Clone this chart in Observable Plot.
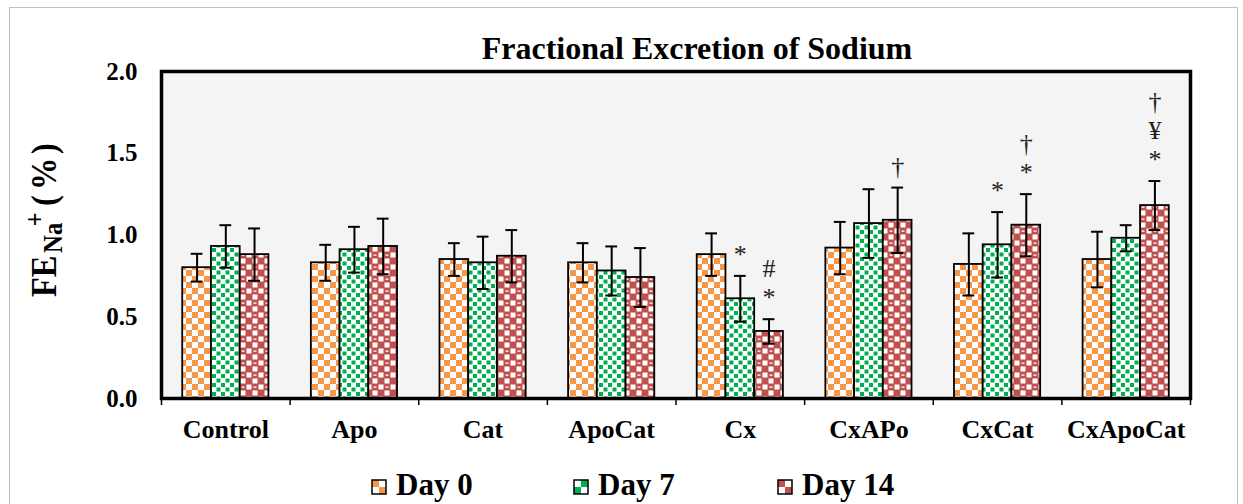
<!DOCTYPE html>
<html>
<head>
<meta charset="utf-8">
<script src="https://cdn.jsdelivr.net/npm/d3@7"></script>
<script src="https://cdn.jsdelivr.net/npm/@observablehq/plot@0.6"></script>
<style>
  body { margin: 0; background: #fff; font-family: "Liberation Serif", "Times New Roman", serif; }
  #wrap { position: relative; width: 1243px; height: 504px; overflow: hidden; }
  #border { position: absolute; left: 9px; top: 7px; width: 1229px; height: 520px; border: 1.5px solid #c0c0c0; box-sizing: border-box; }
  #chart { position: absolute; left: 0; top: 0; }
  #title { position: absolute; left: 0; width: 1394px; top: 29px; text-align: center; font-weight: bold; font-size: 32px; line-height: 38px; }
  #ylab { position: absolute; left: 0; top: 0; overflow: visible; }
  .leg { position: absolute; top: 469px; display: flex; align-items: center; font-weight: bold; font-size: 31px; line-height: 32px; }
  .leg svg { margin-right: 9px; margin-top: 3px; }
</style>
</head>
<body>
<div id="wrap">
  <div id="border"></div>
  <div id="chart"></div>
  <div id="title">Fractional Excretion of Sodium</div>
  <svg id="ylab" width="100" height="400">
    <text transform="translate(56,297) rotate(-90) scale(0.9,1)" font-family="'Liberation Serif', 'Times New Roman', serif" font-weight="bold" font-size="36" fill="black">FE<tspan font-size="27.5" dx="3" dy="6">Na</tspan><tspan font-size="27" dx="-4" dy="-18">+</tspan><tspan dx="7" dy="12">(</tspan><tspan dx="6">%</tspan><tspan dx="4">)</tspan></text>
  </svg>
  <div id="legend"></div>
</div>
<script>
const categories = ["Control", "Apo", "Cat", "ApoCat", "Cx", "CxAPo", "CxCat", "CxApoCat"];
const days = ["Day 0", "Day 7", "Day 14"];
const day0Mean = [0.80, 0.83, 0.85, 0.83, 0.88, 0.92, 0.82, 0.85];
const day0SD   = [0.085, 0.11, 0.10, 0.12, 0.13, 0.16, 0.19, 0.17];
const day7Mean = [0.93, 0.91, 0.83, 0.78, 0.61, 1.07, 0.94, 0.98];
const day7SD   = [0.13, 0.14, 0.16, 0.15, 0.14, 0.21, 0.20, 0.08];
const day14Mean = [0.88, 0.93, 0.87, 0.74, 0.41, 1.09, 1.06, 1.18];
const day14SD   = [0.16, 0.17, 0.16, 0.18, 0.075, 0.20, 0.19, 0.15];
const day0Ann  = ["", "", "", "", "", "", "", ""];
const day7Ann  = ["", "", "", "", "*", "", "*", ""];
const day14Ann = ["", "", "", "", "#\n*", "†", "†\n*", "†\n¥\n*"];
const yTicks = [0, 0.5, 1.0, 1.5, 2.0];

const means = [day0Mean, day7Mean, day14Mean];
const sds = [day0SD, day7SD, day14SD];
const anns = [day0Ann, day7Ann, day14Ann];
const patternIds = ["url(#pDay0)", "url(#pDay7)", "url(#pDay14)"];

const groupFrac = 0.67;          // share of a category band covered by its 3 bars
const barW = groupFrac / 3;
const rows = [];
categories.forEach((c, i) => {
  days.forEach((day, d) => {
    const x1 = i + 0.5 - groupFrac / 2 + d * barW;
    rows.push({cat: c, day, x1, x2: x1 + barW, xc: x1 + barW / 2,
      mean: means[d][i], sd: sds[d][i], lo: means[d][i] - sds[d][i], hi: means[d][i] + sds[d][i], ann: anns[d][i]});
  });
});
const capHalf = 0.046;

const plot = Plot.plot({
  width: 1243,
  height: 504,
  marginLeft: 161,
  marginRight: 53,
  marginTop: 71,
  marginBottom: 106,
  style: {fontFamily: "'Liberation Serif', 'Times New Roman', serif", fontSize: "25px", fontWeight: "bold", color: "black", background: "transparent", overflow: "visible"},
  x: {domain: [0, categories.length], axis: null},
  y: {domain: [0, 2], axis: null},
  color: {domain: days, range: patternIds},
  marks: [
    Plot.frame({fill: "#f4f4f4", stroke: "none"}),
    Plot.axisY({ticks: yTicks, tickSize: 0, tickPadding: 24, tickFormat: d3.format(".1f"), fontSize: 25, fontWeight: "bold"}),
    Plot.axisX({ticks: d3.range(0, categories.length + 1), tickSize: 7, tickFormat: () => "", strokeWidth: 1.5}),
    Plot.axisX({ticks: categories.map((c, i) => i + 0.5), tickSize: 0, tickPadding: 21, tickFormat: d => categories[Math.floor(d)], fontSize: 26, fontWeight: "bold"}),
    Plot.rectY(rows, {x1: "x1", x2: "x2", y1: 0, y2: "mean", fill: "day", stroke: "black", strokeWidth: 1.8}),
    Plot.ruleX(rows, {x: "xc", y1: "lo", y2: "hi", stroke: "black", strokeWidth: 2}),
    Plot.ruleY(rows, {y: "hi", x1: d => d.xc - capHalf, x2: d => d.xc + capHalf, stroke: "black", strokeWidth: 2}),
    Plot.ruleY(rows, {y: "lo", x1: d => d.xc - capHalf, x2: d => d.xc + capHalf, stroke: "black", strokeWidth: 2}),
    Plot.text(rows.filter(d => d.ann), {x: "xc", y: "hi", text: "ann", lineAnchor: "bottom", dy: -13, fontSize: 26, fontWeight: "normal", lineHeight: 1.12, fill: "#222"}),
    Plot.frame({stroke: "black", strokeWidth: 3.5})
  ]
});

const defs = `
<defs>
  <pattern id="pDay0" patternUnits="userSpaceOnUse" width="12" height="12">
    <rect width="12" height="12" fill="#ffffff"/>
    <rect x="0" y="0" width="6" height="6" fill="#f79646"/>
    <rect x="6" y="6" width="6" height="6" fill="#f79646"/>
  </pattern>
  <pattern id="pDay7" patternUnits="userSpaceOnUse" width="9" height="9">
    <rect width="9" height="9" fill="#ffffff"/>
    <rect x="0.5" y="0.5" width="4" height="4" fill="#00b050"/>
    <rect x="5" y="5" width="4" height="4" fill="#00b050"/>
  </pattern>
  <pattern id="pDay14" patternUnits="userSpaceOnUse" width="12" height="12">
    <rect width="12" height="12" fill="#c0504d"/>
    <rect x="6.5" y="0.5" width="5" height="5" fill="#ffffff"/>
    <rect x="0.5" y="6.5" width="5" height="5" fill="#ffffff"/>
    <rect x="1.5" y="2.5" width="3" height="1.3" fill="#ffffff"/>
    <rect x="7.5" y="8.5" width="3" height="1.3" fill="#c0504d"/>
  </pattern>
</defs>`;
plot.insertAdjacentHTML("afterbegin", defs);
document.getElementById("chart").appendChild(plot);

// Legend
const legendLeft = [371, 573, 777];
const swatchPat = [
  ['#f79646', '#ffffff', '#ffffff', '#f79646'],
  ['#ffffff', '#00b050', '#00b050', '#ffffff'],
  ['#c0504d', '#ffffff', '#ffffff', '#c0504d']
];
const legend = document.getElementById("legend");
days.forEach((day, d) => {
  const p = swatchPat[d];
  const item = document.createElement("div");
  item.className = "leg";
  item.style.left = legendLeft[d] + "px";
  item.innerHTML = `<svg width="16" height="16"><rect x="1" y="1" width="7" height="7" fill="${p[0]}"/><rect x="8" y="1" width="7" height="7" fill="${p[1]}"/><rect x="1" y="8" width="7" height="7" fill="${p[2]}"/><rect x="8" y="8" width="7" height="7" fill="${p[3]}"/><rect x="1" y="1" width="14" height="14" fill="none" stroke="black" stroke-width="1.5"/></svg><span>${day}</span>`;
  legend.appendChild(item);
});
</script>
</body>
</html>
